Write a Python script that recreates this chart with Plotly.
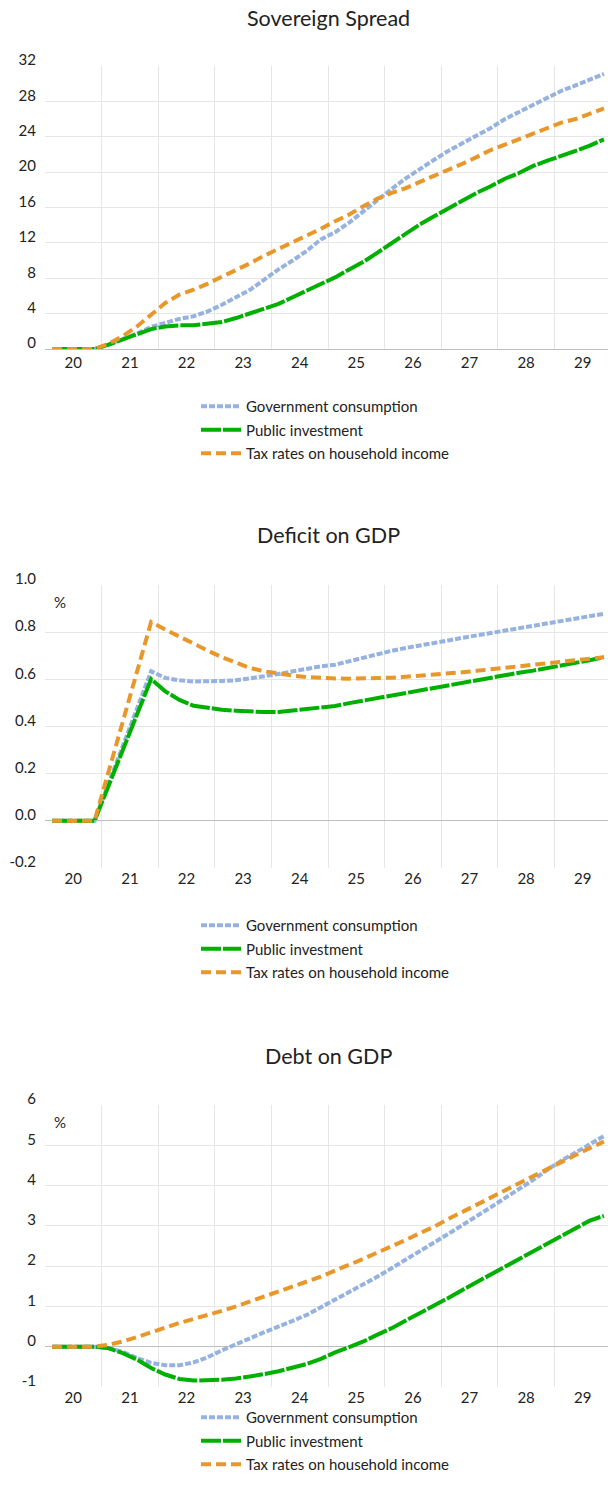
import plotly.graph_objects as go

# ---------------- data (quarterly, 2020Q1 .. 2029Q4) ----------------
quarters = list(range(40))
year_labels = ["20", "21", "22", "23", "24", "25", "26", "27", "28", "29"]
series_names = ["Government consumption", "Public investment", "Tax rates on household income"]

spread_gov = [0, 0, 0, 0, 0.5, 1.1, 1.75, 2.5, 3.0, 3.4, 3.7, 4.25, 5.0, 5.9, 6.7, 7.85,
              9.0, 10.0, 11.1, 12.4, 13.2, 14.3, 15.6, 16.9, 18.1, 19.3, 20.4, 21.4,
              22.4, 23.25, 24.15, 25.0, 26.0, 26.8, 27.65, 28.4, 29.2, 29.8, 30.4, 31.1]
spread_pub = [0, 0, 0, 0, 0.5, 1.05, 1.6, 2.25, 2.55, 2.68, 2.68, 2.83, 3.05, 3.5, 4.0, 4.5,
              5.1, 5.85, 6.6, 7.4, 8.1, 9.0, 9.85, 10.9, 12.0, 13.05, 14.1, 15.0,
              15.9, 16.8, 17.65, 18.4, 19.25, 19.9, 20.7, 21.3, 21.8, 22.4, 23.0, 23.7]
spread_tax = [0, 0, 0, 0, 0.6, 1.45, 2.55, 3.9, 5.2, 6.15, 6.7, 7.4, 8.15, 9.0, 9.7, 10.55,
              11.3, 12.1, 12.75, 13.6, 14.45, 15.2, 16.15, 17.0, 17.65, 18.2, 18.9, 19.55,
              20.3, 20.95, 21.7, 22.5, 23.1, 23.7, 24.4, 25.0, 25.6, 26.0, 26.6, 27.2]

deficit_gov = [0, 0, 0, 0, 0.16, 0.32, 0.48, 0.634, 0.606, 0.596, 0.591, 0.590, 0.593, 0.596,
               0.603, 0.613, 0.623, 0.634, 0.644, 0.655, 0.662, 0.677, 0.694, 0.709, 0.721,
               0.733, 0.745, 0.755, 0.765, 0.776, 0.786, 0.795, 0.804, 0.814, 0.825, 0.835,
               0.844, 0.854, 0.865, 0.878]
deficit_pub = [0, 0, 0, 0, 0.15, 0.30, 0.45, 0.601, 0.549, 0.513, 0.488, 0.478, 0.471, 0.467,
               0.463, 0.461, 0.462, 0.468, 0.474, 0.482, 0.487, 0.499, 0.510, 0.522, 0.533,
               0.544, 0.554, 0.565, 0.575, 0.586, 0.597, 0.607, 0.618, 0.628, 0.637, 0.647,
               0.657, 0.669, 0.681, 0.694]
deficit_tax = [0, 0, 0, 0, 0.21, 0.42, 0.63, 0.843, 0.811, 0.780, 0.750, 0.722, 0.694, 0.670,
               0.648, 0.634, 0.624, 0.616, 0.610, 0.606, 0.604, 0.603, 0.603, 0.604, 0.607,
               0.611, 0.615, 0.620, 0.625, 0.630, 0.636, 0.642, 0.648, 0.655, 0.662, 0.669,
               0.676, 0.681, 0.687, 0.694]

debt_gov = [0, 0, 0, 0, -0.03, -0.13, -0.28, -0.40, -0.46, -0.46, -0.39, -0.26, -0.09, 0.07,
            0.21, 0.36, 0.49, 0.64, 0.79, 0.98, 1.17, 1.35, 1.54, 1.74, 1.95, 2.16, 2.36,
            2.59, 2.80, 3.02, 3.23, 3.46, 3.69, 3.91, 4.14, 4.39, 4.62, 4.82, 5.02, 5.23]
debt_pub = [0, 0, 0, 0, -0.04, -0.16, -0.32, -0.53, -0.69, -0.80, -0.84, -0.84, -0.82, -0.79,
            -0.74, -0.68, -0.61, -0.53, -0.43, -0.30, -0.14, -0.01, 0.13, 0.30, 0.46, 0.65,
            0.83, 1.02, 1.21, 1.41, 1.60, 1.79, 1.99, 2.17, 2.36, 2.57, 2.75, 2.94, 3.13, 3.25]
debt_tax = [0, 0, 0, 0, 0.05, 0.13, 0.24, 0.36, 0.48, 0.59, 0.69, 0.78, 0.89, 1.0, 1.12,
            1.25, 1.37, 1.50, 1.62, 1.74, 1.89, 2.03, 2.18, 2.34, 2.49, 2.65, 2.82, 2.98,
            3.17, 3.34, 3.52, 3.70, 3.88, 4.06, 4.24, 4.41, 4.60, 4.76, 4.93, 5.09]

titles = ["Sovereign Spread", "Deficit on GDP", "Debt on GDP"]
spread_ticks = [0, 4, 8, 12, 16, 20, 24, 28, 32]
spread_labels = ["0", "4", "8", "12", "16", "20", "24", "28", "32"]
deficit_ticks = [-0.2, 0.0, 0.2, 0.4, 0.6, 0.8, 1.0]
deficit_labels = ["-0.2", "0.0", "0.2", "0.4", "0.6", "0.8", "1.0"]
debt_ticks = [-1, 0, 1, 2, 3, 4, 5, 6]
debt_labels = ["-1", "0", "1", "2", "3", "4", "5", "6"]

# ---------------- styling ----------------
W, H = 608, 1504
FONT = "Lato, 'Liberation Sans', sans-serif"
TXT = "#222222"
GRID = "#E6E6E6"
colors = ["#96B2E0", "#00B000", "#E8972B"]
dashes = ["6px,2px", "20px,2px", "10px,5px"]
widths = [4, 4, 4]

def py(px):
    return 1 - px / H

PLOT_L = 45
plots = [  # top px, bottom px, legend top px
    (66, 349, 390),
    (585, 868, 909),
    (1105, 1387, 1401),
]
title_y = [18, 535, 1056]

fig = go.Figure()
datasets = [
    (spread_gov, spread_pub, spread_tax),
    (deficit_gov, deficit_pub, deficit_tax),
    (debt_gov, debt_pub, debt_tax),
]
ticksets = [(spread_ticks, spread_labels), (deficit_ticks, deficit_labels), (debt_ticks, debt_labels)]

for i, ds in enumerate(datasets):
    sfx = "" if i == 0 else str(i + 1)
    leg = "legend" if i == 0 else "legend" + str(i + 1)
    for j, ys in enumerate(ds):
        fig.add_trace(go.Scatter(
            x=quarters, y=ys, mode="lines", name=series_names[j],
            line=dict(color=colors[j], width=widths[j], dash=dashes[j]),
            xaxis="x" + sfx, yaxis="y" + sfx, legend=leg,
            legendgroup=f"g{i}{j}", showlegend=True, hoverinfo="skip",
        ))

x_range = [-0.5, -0.5 + (W - PLOT_L) / 14.15]
layout = dict(
    width=W, height=H, margin=dict(l=0, r=0, t=0, b=0, autoexpand=False),
    paper_bgcolor="white", plot_bgcolor="white",
    font=dict(family=FONT, color=TXT, size=15),
    showlegend=True,
)
annotations = []
for i, (top, bot, legtop) in enumerate(plots):
    sfx = "" if i == 0 else str(i + 1)
    ticks, labels = ticksets[i]
    layout["xaxis" + sfx] = dict(
        domain=[PLOT_L / W, 1], anchor="y" + sfx, range=x_range, automargin=False,
        tickmode="array", tickvals=[4 * k + 1.5 for k in range(10)], ticktext=year_labels,
        showgrid=False, zeroline=False, ticks="", tickfont=dict(size=15, color=TXT),
        showline=(i == 0), linecolor="#BFBFBF", linewidth=1,
        minor=dict(tickmode="array", tickvals=[4 * k + 3.5 for k in range(9)],
                   showgrid=True, gridcolor=GRID, gridwidth=1, ticks=""),
        fixedrange=True,
    )
    layout["yaxis" + sfx] = dict(
        domain=[py(bot), py(top)], anchor="x" + sfx, range=[ticks[0], ticks[-1]],
        automargin=False,
        tickmode="array", tickvals=ticks, ticktext=labels,
        showgrid=False, zeroline=(i != 0), zerolinecolor="#BFBFBF", zerolinewidth=1,
        ticks="", tickfont=dict(size=15, color=TXT), ticklabelstandoff=8,
        ticklabelshift=-6,
        minor=dict(tickmode="array", tickvals=ticks[1:-1], showgrid=True,
                   gridcolor=GRID, gridwidth=1, ticks=""),
        fixedrange=True,
    )
    leg = "legend" if i == 0 else "legend" + str(i + 1)
    layout[leg] = dict(
        x=196 / W, xanchor="left", y=py(legtop), yanchor="top",
        orientation="v", font=dict(size=15, color=TXT, family=FONT),
        bgcolor="rgba(0,0,0,0)", tracegroupgap=1, itemwidth=40,
    )
    annotations.append(dict(
        text=titles[i], x=(PLOT_L + 611) / 2 / W, y=py(title_y[i]),
        xref="paper", yref="paper", xanchor="center", yanchor="middle",
        showarrow=False, font=dict(size=21.5, color=TXT, family=FONT),
    ))
    if i > 0:
        annotations.append(dict(
            text="%", x=60 / W, y=py(602 if i == 1 else 1122), xref="paper", yref="paper",
            xanchor="center", yanchor="middle", showarrow=False,
            font=dict(size=15, color=TXT, family=FONT),
        ))

layout["annotations"] = annotations
fig.update_layout(**layout)
fig.write_html("out.html")
